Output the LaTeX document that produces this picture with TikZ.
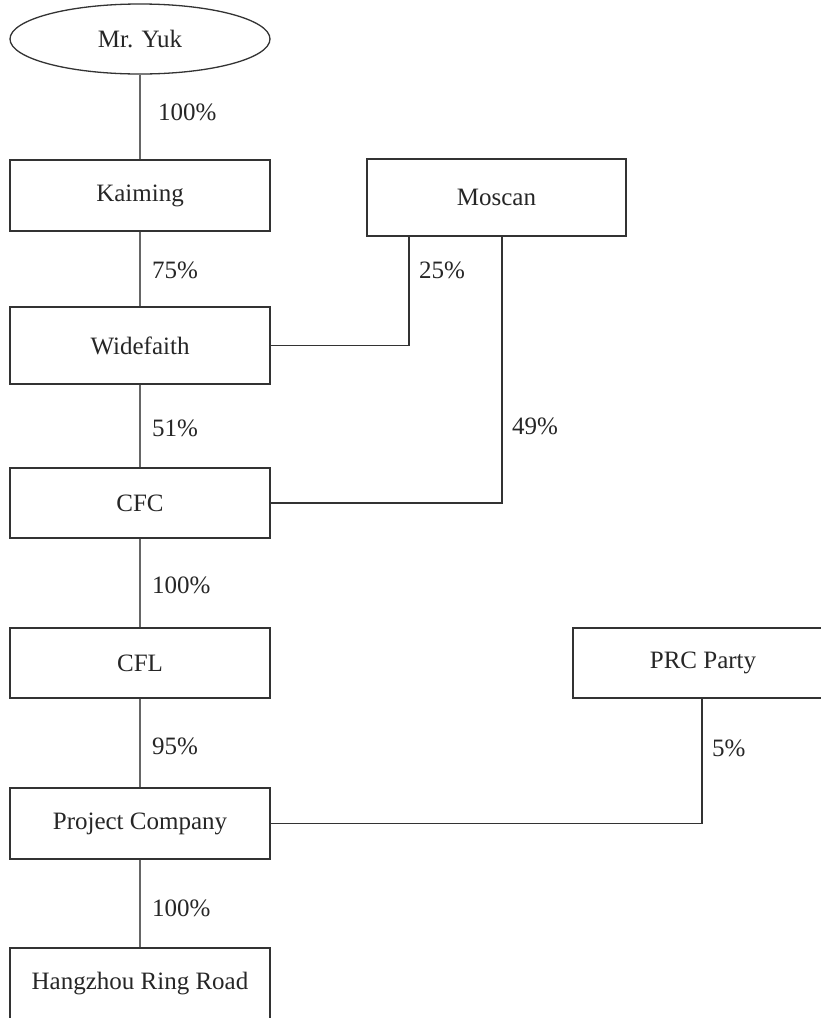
\documentclass[tikz,border=0pt]{standalone}
\usepackage{fontspec}
\setmainfont{Liberation Serif}
\usetikzlibrary{shapes.geometric}
\begin{document}
\begin{tikzpicture}[x=1pt,y=-1pt,
  box/.style={draw=black!80,line width=1.3pt,rectangle,minimum width=260pt,inner sep=0pt,font=\fontsize{25}{30}\selectfont,text=black!85},
  oval/.style={draw=black!80,line width=1.3pt,ellipse,minimum width=260pt,minimum height=70pt,inner sep=0pt,font=\fontsize{25}{30}\selectfont,text=black!85},
  pct/.style={anchor=west,inner sep=0pt,font=\fontsize{25}{30}\selectfont,text=black!85},
  vlink/.style={draw=black!60,line width=1.5pt},
  slink/.style={draw=black!80,line width=1.5pt}]
\useasboundingbox (0,0) rectangle (821,1018);
\clip (0,0) rectangle (821,1018);
\node[oval] (yuk) at (140,39) {Mr. Yuk};
\node[box,minimum height=71pt] (kai) at (140,195.5) {Kaiming};
\node[box,minimum width=259pt,minimum height=77pt] (mos) at (496.5,197.5) {Moscan};
\node[box,minimum height=77pt] (wide) at (140,345.5) {Widefaith};
\node[box,minimum height=70pt] (cfc) at (140,503) {CFC};
\node[box,minimum height=70pt] (cfl) at (140,663) {CFL};
\node[box,minimum height=70pt] (prc) at (703,663) {PRC Party};
\node[box,minimum height=71pt] (pc) at (140,823.5) {Project Company};
\node[box,minimum height=71pt] (hz) at (140,983.5) {Hangzhou Ring Road};

\draw[vlink] (yuk) -- (kai);
\draw[vlink] (kai) -- (wide);
\draw[vlink] (wide) -- (cfc);
\draw[vlink] (cfc) -- (cfl);
\draw[vlink] (cfl) -- (pc);
\draw[vlink] (pc) -- (hz);
\draw[slink] ([xshift=-87.5pt]mos.south) |- (wide.east);
\draw[slink] ([xshift=5.5pt]mos.south) |- (cfc.east);
\draw[slink] ([xshift=-1pt]prc.south) |- (pc.east);

\node[pct] (p1) at (158,112) {100\%};
\node[pct] (p2) at (152,270) {75\%};
\node[pct] (p3) at (419,270) {25\%};
\node[pct] (p4) at (152,428) {51\%};
\node[pct] (p5) at (512,426) {49\%};
\node[pct] (p6) at (152,585) {100\%};
\node[pct] (p7) at (152,746) {95\%};
\node[pct] (p8) at (712,748) {5\%};
\node[pct] (p9) at (152,908) {100\%};
\end{tikzpicture}
\end{document}
